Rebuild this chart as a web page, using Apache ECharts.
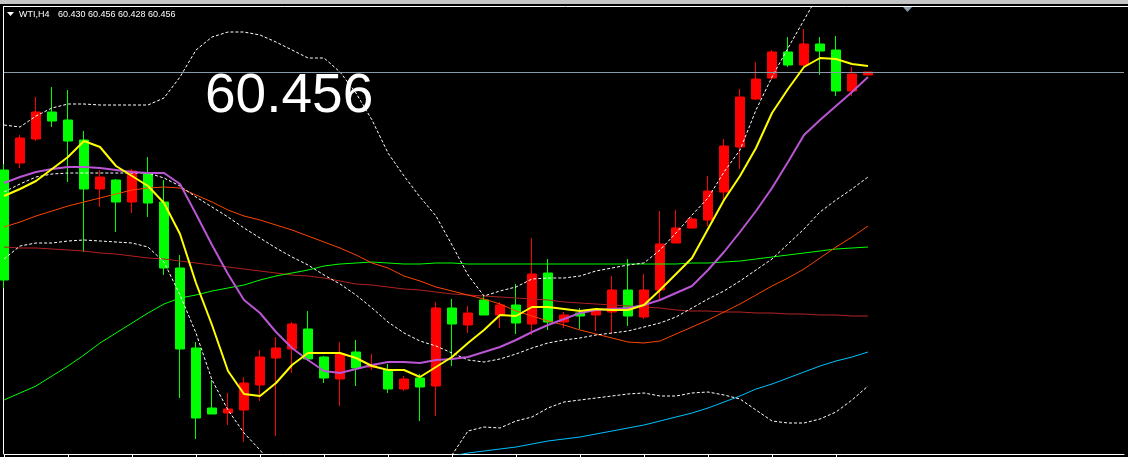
<!DOCTYPE html>
<html><head><meta charset="utf-8">
<script src="https://cdn.jsdelivr.net/npm/echarts@6/dist/echarts.min.js"></script>
<style>html,body{margin:0;padding:0;background:#000;overflow:hidden}#c{width:1128px;height:457px}</style>
</head><body><div id="c"></div>
<script>
// ---- data ----
const symbolLabel = 'WTI,H4';
const headerValues = '60.430 60.456 60.428 60.456';
const lastPriceText = '60.456';
const lastPrice = 60.456;
const barCount = 55;      // candles drawn
const slotCount = 71;     // candles + empty chart shift on the right
const categories = Array.from({length: slotCount}, (_, i) => 'B' + i);
const priceMin = 56.646;
const priceMax = 61.116;

const candleOpen  = [58.386,59.806,60.066,59.976,59.776,59.296,59.416,59.166,59.476,59.156,58.506,57.696,57.006,57.046,57.096,57.356,57.616,57.706,57.946,57.596,57.406,57.646,57.506,57.536,57.296,57.396,57.316,58.106,57.946,58.056,58.036,58.136,57.956,58.446,57.966,58.036,58.026,58.086,58.286,58.026,58.286,58.746,58.906,58.996,59.276,59.726,60.216,60.396,60.666,60.536,60.746,60.676,60.276,60.446,60.466];
const candleClose = [59.486,59.556,59.796,60.066,59.986,59.786,59.296,59.386,59.166,59.456,59.166,58.506,57.706,57.106,57.056,57.086,57.336,57.606,57.696,57.896,57.616,57.396,57.666,57.516,57.486,57.296,57.406,57.326,58.106,57.936,58.186,58.036,58.136,57.946,58.456,57.966,58.056,58.036,58.066,58.286,58.016,58.286,58.756,58.906,58.986,59.266,59.716,60.196,60.406,60.666,60.536,60.746,60.686,60.276,60.436];
const candleLow   = [58.306,59.506,59.776,59.916,59.366,58.666,59.116,58.866,59.056,59.016,58.436,57.206,56.796,57.046,56.936,56.766,57.176,56.826,57.456,57.576,57.356,57.126,57.326,57.486,57.256,57.276,56.976,57.026,57.526,57.856,58.036,57.906,57.846,57.836,57.886,57.906,57.896,57.876,57.846,57.926,57.996,58.196,58.756,58.896,58.926,59.186,59.496,60.186,60.386,60.516,60.526,60.436,60.226,60.226,60.436];
const candleHigh  = [59.546,59.836,60.216,60.316,60.286,59.876,59.486,59.396,59.496,59.616,59.386,58.636,57.766,57.386,57.256,57.416,57.686,57.816,57.966,58.076,57.626,57.766,57.786,57.646,57.546,57.426,57.446,58.166,58.196,58.126,58.236,58.166,58.346,58.806,58.596,58.066,58.106,58.106,58.426,58.596,58.446,59.076,59.086,59.016,59.426,59.796,60.296,60.566,60.686,60.816,60.896,60.816,60.826,60.516,60.466];

const maFast = [59.226,59.296,59.376,59.496,59.616,59.776,59.716,59.526,59.426,59.326,59.156,58.846,58.356,57.936,57.476,57.246,57.226,57.356,57.536,57.656,57.656,57.656,57.606,57.526,57.486,57.486,57.416,57.516,57.616,57.756,57.886,58.036,58.026,58.116,58.116,58.096,58.076,58.096,58.086,58.086,58.136,58.286,58.446,58.606,58.896,59.186,59.426,59.706,60.056,60.296,60.516,60.606,60.596,60.546,60.526];
const maMid = [59.356,59.416,59.466,59.496,59.516,59.516,59.506,59.486,59.466,59.456,59.456,59.346,59.046,58.736,58.446,58.186,58.056,57.866,57.706,57.586,57.476,57.456,57.496,57.536,57.566,57.566,57.556,57.586,57.596,57.616,57.666,57.716,57.786,57.866,57.936,57.996,58.056,58.086,58.096,58.106,58.136,58.186,58.256,58.326,58.486,58.666,58.866,59.076,59.306,59.566,59.836,59.986,60.126,60.266,60.416];
const maOrange = [58.916,58.966,59.026,59.076,59.126,59.166,59.206,59.246,59.286,59.306,59.316,59.306,59.236,59.166,59.086,59.026,58.986,58.936,58.886,58.826,58.766,58.706,58.636,58.556,58.506,58.426,58.376,58.316,58.276,58.236,58.196,58.146,58.076,58.026,57.976,57.936,57.886,57.846,57.806,57.766,57.756,57.776,57.846,57.916,57.986,58.066,58.146,58.236,58.326,58.406,58.496,58.606,58.716,58.816,58.926];
const maBrown = [58.716,58.706,58.706,58.696,58.686,58.676,58.656,58.646,58.626,58.606,58.596,58.576,58.556,58.536,58.516,58.496,58.476,58.456,58.436,58.426,58.406,58.376,58.346,58.336,58.316,58.296,58.286,58.266,58.246,58.236,58.226,58.216,58.206,58.196,58.186,58.166,58.156,58.146,58.136,58.126,58.116,58.106,58.086,58.076,58.076,58.066,58.066,58.056,58.056,58.046,58.046,58.036,58.036,58.026,58.026];
const maGreen = [57.186,57.256,57.326,57.426,57.526,57.636,57.756,57.856,57.956,58.056,58.146,58.206,58.236,58.276,58.306,58.336,58.386,58.426,58.456,58.486,58.526,58.546,58.556,58.566,58.556,58.546,58.546,58.556,58.556,58.546,58.546,58.546,58.546,58.546,58.546,58.546,58.546,58.546,58.546,58.546,58.546,58.546,58.546,58.556,58.556,58.566,58.576,58.596,58.616,58.636,58.656,58.676,58.696,58.706,58.716];
const maBlue = [null,null,null,null,null,null,null,null,null,null,null,null,null,null,null,null,null,null,null,null,null,null,null,null,null,null,null,null,56.626,56.656,56.676,56.696,56.716,56.746,56.776,56.796,56.816,56.846,56.876,56.906,56.936,56.976,57.016,57.056,57.106,57.166,57.226,57.296,57.346,57.406,57.466,57.526,57.576,57.616,57.666];
const bandUpper = [59.936,59.916,60.026,60.106,60.146,60.146,60.136,60.136,60.136,60.136,60.206,60.416,60.686,60.816,60.866,60.866,60.836,60.766,60.686,60.606,60.606,60.466,60.256,59.986,59.656,59.426,59.216,59.026,58.736,58.436,58.226,58.276,58.316,58.396,58.406,58.406,58.426,58.476,58.506,58.536,58.556,58.686,58.856,59.036,59.206,59.466,59.686,60.086,60.416,60.706,60.986,61.266,61.486,61.636,61.736];
const bandLower = [58.596,58.726,58.756,58.756,58.776,58.786,58.776,58.766,58.756,58.716,58.566,58.236,57.856,57.386,57.086,56.856,56.686,56.486,56.286,56.136,56.036,56.036,56.086,56.136,56.236,56.336,56.436,56.536,56.636,56.876,56.916,56.906,56.976,57.016,57.106,57.166,57.186,57.206,57.226,57.246,57.256,57.226,57.226,57.256,57.266,57.236,57.196,57.086,56.976,56.956,56.956,56.996,57.066,57.186,57.326];
const bandInner = [59.266,59.346,59.416,59.446,59.456,59.456,59.456,59.456,59.456,59.456,59.406,59.326,59.216,59.116,59.016,58.906,58.806,58.706,58.616,58.536,58.436,58.346,58.236,58.106,57.966,57.856,57.776,57.726,57.656,57.586,57.566,57.596,57.646,57.706,57.756,57.786,57.806,57.836,57.856,57.876,57.916,57.956,58.016,58.106,58.196,58.276,58.376,58.486,58.596,58.746,58.896,59.066,59.186,59.296,59.416];

// ---- chart ----
const candles = candleOpen.map((o, i) => [o, candleClose[i], candleLow[i], candleHigh[i]]);
function line(name, data, color, width, type, z) {
  return {name, type: 'line', data, symbol: 'none', showSymbol: false, z: z || 3,
    lineStyle: {color, width, type: type || 'solid'}, silent: true, animation: false, connectNulls: false};
}
const chart = echarts.init(document.getElementById('c'), null, {renderer: 'canvas'});
chart.setOption({
  backgroundColor: '#000000',
  animation: false,
  grid: {left: 4, right: 4, top: 7, bottom: 3, containLabel: false},
  xAxis: {
    type: 'category', data: categories, boundaryGap: false,
    axisLine: {show: true, lineStyle: {color: '#ffffff', width: 1}},
    axisTick: {show: true, length: 3, inside: false, lineStyle: {color: '#ffffff'},
      interval: (idx) => idx % 4 === 0 && idx < barCount},
    axisLabel: {show: false}, splitLine: {show: false}
  },
  yAxis: {type: 'value', min: priceMin, max: priceMax, scale: true, show: false,
    splitLine: {show: false}},
  series: [
    {type: 'candlestick', data: candles, barWidth: 10, z: 2,
      itemStyle: {color: '#00ff00', color0: '#ff0000', borderColor: '#00ff00', borderColor0: '#ff0000', borderWidth: 1},
      markLine: {silent: true, symbol: ['none', 'none'], label: {show: false},
        lineStyle: {color: '#8899aa', width: 1, type: 'solid'},
        data: [{yAxis: lastPrice}]}
    },
    line('brown', maBrown, '#b22222', 1),
    line('green', maGreen, '#00ff00', 1),
    line('blue', maBlue, '#00bfff', 1),
    line('orange', maOrange, '#ff4500', 1),
    line('inner', bandInner, '#ffffff', 1, [3, 2]),
    line('upper', bandUpper, '#ffffff', 1, [3, 2]),
    line('lower', bandLower, '#ffffff', 1, [3, 2]),
    line('mid', maMid, '#ba55d3', 2, 'solid', 4),
    line('fast', maFast, '#ffff00', 2, 'solid', 5)
  ],
  graphic: [
    {type: 'rect', shape: {x: 0, y: 0, width: 1128, height: 4}, style: {fill: '#c4c4c4'}, silent: true},
    {type: 'line', shape: {x1: 3, y1: 6.5, x2: 1128, y2: 6.5}, style: {stroke: '#ffffff', lineWidth: 1}, silent: true},
    {type: 'line', shape: {x1: 3.5, y1: 6, x2: 3.5, y2: 454}, style: {stroke: '#ffffff', lineWidth: 1}, silent: true},
    {type: 'polygon', shape: {points: [[7, 12], [14, 12], [10.5, 16]]}, style: {fill: '#ffffff'}, silent: true},
    {type: 'polygon', shape: {points: [[903, 7], [912, 7], [907.5, 12]]}, style: {fill: '#8899aa'}, silent: true},
    {type: 'text', x: 19, y: 15, silent: true,
      style: {text: symbolLabel, fill: '#ffffff', font: '9px "Liberation Sans", Arial, sans-serif',
        align: 'left', verticalAlign: 'middle', textAlign: 'left', textVerticalAlign: 'middle'}},
    {type: 'text', x: 58, y: 15, silent: true,
      style: {text: headerValues, fill: '#ffffff', font: '9px "Liberation Sans", Arial, sans-serif',
        align: 'left', verticalAlign: 'middle', textAlign: 'left', textVerticalAlign: 'middle'}},
    {type: 'text', x: 205, y: 97, silent: true, z: 10,
      style: {text: lastPriceText, fill: '#ffffff', font: '55px "Liberation Sans", Arial, sans-serif',
        align: 'left', verticalAlign: 'middle', textAlign: 'left', textVerticalAlign: 'middle'}}
  ]
});
</script></body></html>
